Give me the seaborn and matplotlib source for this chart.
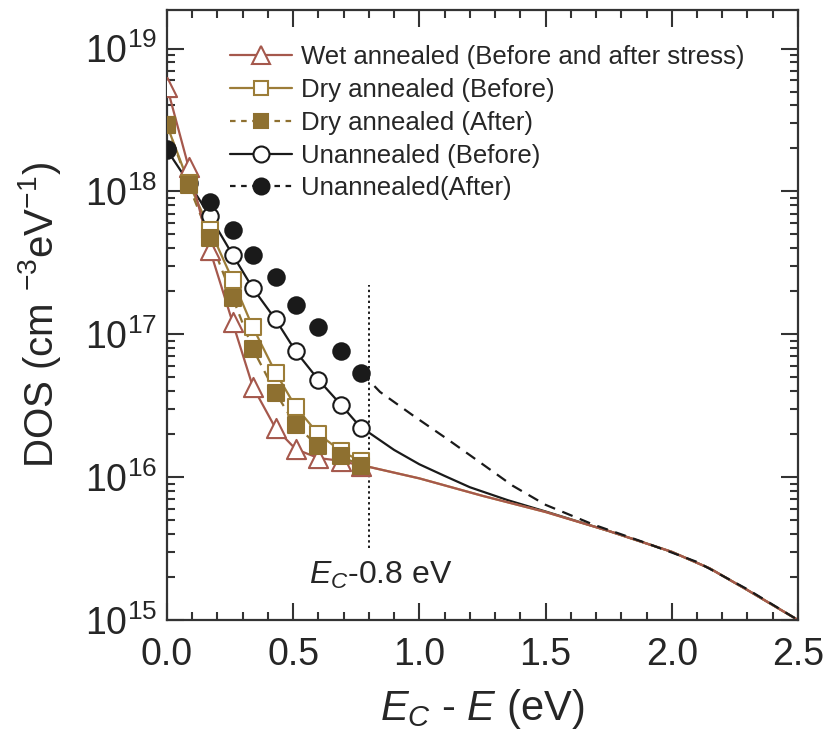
import numpy as np
import matplotlib
matplotlib.use("Agg")
import matplotlib.pyplot as plt
import seaborn as sns
from matplotlib.lines import Line2D
from matplotlib.ticker import MultipleLocator, LogLocator, NullFormatter

# ---------------- data ----------------
x_pts = [0.0, 0.086, 0.17, 0.26, 0.34, 0.43, 0.51, 0.60, 0.69, 0.77]

wet = [5.4e18, 1.47e18, 3.9e17, 1.21e17, 4.3e16, 2.2e16, 1.57e16, 1.36e16, 1.3e16, 1.2e16]
dry_before = [2.9e18, 1.15e18, 5.4e17, 2.4e17, 1.12e17, 5.4e16, 3.1e16, 2.0e16, 1.52e16, 1.29e16]
dry_after = [2.9e18, 1.1e18, 4.7e17, 1.8e17, 7.9e16, 3.9e16, 2.3e16, 1.65e16, 1.4e16, 1.2e16]
unann_before = [1.95e18, 1.15e18, 6.7e17, 3.6e17, 2.1e17, 1.27e17, 7.6e16, 4.8e16, 3.2e16, 2.2e16]
unann_after_x = [0.0, 0.17, 0.26, 0.34, 0.43, 0.51, 0.60, 0.69, 0.77]
unann_after = [1.97e18, 8.4e17, 5.4e17, 3.6e17, 2.5e17, 1.6e17, 1.12e17, 7.6e16, 5.4e16]

# tails beyond the marker region
tail_x = [0.77, 0.8, 1.0, 1.25, 1.5, 1.75, 2.0, 2.15, 2.3, 2.5]
tail_wet = [1.2e16, 1.18e16, 9.8e15, 7.4e15, 5.7e15, 4.2e15, 3.0e15, 2.3e15, 1.62e15, 1.0e15]

tail_ub_x = [0.77, 0.8, 0.9, 1.0, 1.1, 1.2, 1.35, 1.5, 1.75, 2.0, 2.15, 2.3, 2.5]
tail_ub = [2.2e16, 2.05e16, 1.55e16, 1.23e16, 1.02e16, 8.5e15, 6.9e15, 5.75e15, 4.2e15, 3.0e15, 2.3e15, 1.62e15, 1.0e15]

tail_ua_x = [0.77, 0.844, 0.975, 1.11, 1.24, 1.37, 1.5, 1.69, 1.9, 2.1, 2.3, 2.5]
tail_ua = [5.4e16, 3.95e16, 2.7e16, 1.85e16, 1.27e16, 8.7e15, 6.4e15, 4.65e15, 3.45e15, 2.55e15, 1.64e15, 1.0e15]

vline_x = 0.8
vline_y = [3.2e15, 2.2e17]

labels = ["Wet annealed (Before and after stress)", "Dry annealed (Before)",
          "Dry annealed (After)", "Unannealed (Before)", "Unannealed(After)"]

# ---------------- style ----------------
sns.set_theme(style="ticks")
plt.rcParams['font.family'] = ['Liberation Sans', 'DejaVu Sans']
plt.rcParams['mathtext.fontset'] = 'custom'
plt.rcParams['mathtext.rm'] = 'Liberation Sans'
plt.rcParams['mathtext.it'] = 'Liberation Sans:italic'
plt.rcParams['mathtext.bf'] = 'Liberation Sans:bold'

c_wet = '#A5584C'
c_dry = '#9C7D38'
c_dry_f = '#8E7030'
c_blk = '#1a1a1a'
txt = '#262626'

fig = plt.figure(figsize=(8.3, 7.42), dpi=100)
ax = fig.add_axes([0.2012, 0.1644, 0.7602, 0.8221])

lw = 1.6
# lines through markers + tails
sns.lineplot(x=x_pts, y=unann_before, ax=ax, color=c_blk, lw=lw, estimator=None, sort=False)
sns.lineplot(x=tail_ub_x, y=tail_ub, ax=ax, color=c_blk, lw=lw, estimator=None, sort=False)
sns.lineplot(x=x_pts, y=dry_after, ax=ax, color=c_dry_f, lw=lw, linestyle=(0, (4, 3)), estimator=None, sort=False)
sns.lineplot(x=x_pts, y=dry_before, ax=ax, color=c_dry, lw=lw, estimator=None, sort=False)
sns.lineplot(x=tail_x, y=tail_wet, ax=ax, color='#C8A040', lw=lw, estimator=None, sort=False)
sns.lineplot(x=x_pts, y=wet, ax=ax, color=c_wet, lw=lw, estimator=None, sort=False)
sns.lineplot(x=tail_x, y=tail_wet, ax=ax, color=c_wet, lw=lw, estimator=None, sort=False)
sns.lineplot(x=tail_ua_x, y=tail_ua, ax=ax, color=c_blk, lw=lw, linestyle=(0, (5, 3.5)), estimator=None, sort=False)

# markers
mew = 1.5
sns.scatterplot(x=x_pts, y=unann_before, ax=ax, marker='o', s=140, facecolor='white',
                edgecolor=c_blk, linewidth=mew, zorder=3)
sns.scatterplot(x=x_pts, y=wet, ax=ax, marker='^', s=190, facecolor='white',
                edgecolor=c_wet, linewidth=mew, zorder=3)
sns.scatterplot(x=x_pts, y=dry_before, ax=ax, marker='s', s=120, facecolor='white',
                edgecolor=c_dry, linewidth=mew, zorder=3)
sns.scatterplot(x=x_pts, y=dry_after, ax=ax, marker='s', s=120, facecolor=c_dry_f,
                edgecolor=c_dry_f, linewidth=mew, zorder=4)
sns.scatterplot(x=unann_after_x, y=unann_after, ax=ax, marker='o', s=140, facecolor=c_blk,
                edgecolor=c_blk, linewidth=mew, zorder=4)

# vertical dotted line
ax.plot([vline_x, vline_x], vline_y, color=c_blk, lw=1.4, linestyle=(0, (1.2, 1.6)))
ax.text(0.845, 2.05e15, r"$E_C$-0.8 eV", fontsize=23, ha='center', va='center', color=txt)

# axes
ax.set_yscale('log')
ax.set_xlim(0, 2.5)
ax.set_ylim(1e15, 1.86e19)
ax.xaxis.set_major_locator(MultipleLocator(0.5))
ax.xaxis.set_minor_locator(MultipleLocator(0.1))
ax.yaxis.set_major_locator(LogLocator(base=10, numticks=10))
ax.yaxis.set_minor_locator(LogLocator(base=10, subs=np.arange(2, 10), numticks=20))
ax.yaxis.set_minor_formatter(NullFormatter())
ax.xaxis.set_major_formatter(matplotlib.ticker.FormatStrFormatter('%.1f'))

ax.tick_params(which='both', direction='in', top=True, right=True, color='#333333', width=1.5)
ax.tick_params(which='major', length=12, labelsize=27, labelcolor=txt)
ax.tick_params(which='minor', length=6)
ax.tick_params(axis='x', which='major', pad=12)
ax.tick_params(axis='y', which='major', pad=7)
for sp in ax.spines.values():
    sp.set_linewidth(1.6)
    sp.set_color('#333333')

ax.set_xlabel(r"$E_C$ - $E$ (eV)", fontsize=30, color=txt, labelpad=10)
ax.set_ylabel(r"DOS (cm $^{-3}$eV$^{-1}$)", fontsize=29, color=txt, labelpad=16)

handles = [
    Line2D([], [], color=c_wet, lw=lw, marker='^', ms=13, mfc='white', mec=c_wet, mew=mew),
    Line2D([], [], color=c_dry, lw=lw, marker='s', ms=10.5, mfc='white', mec=c_dry, mew=mew),
    Line2D([], [], color=c_dry_f, lw=lw, linestyle=(0, (2.5, 2.5)), marker='s', ms=10.5, mfc=c_dry_f, mec=c_dry_f, mew=mew),
    Line2D([], [], color=c_blk, lw=lw, marker='o', ms=11.5, mfc='white', mec=c_blk, mew=mew),
    Line2D([], [], color=c_blk, lw=lw, linestyle=(0, (2.5, 2.5)), marker='o', ms=11.5, mfc=c_blk, mec=c_blk, mew=mew),
]
leg = ax.legend(handles, labels, loc='upper left', bbox_to_anchor=(0.1, 0.942), frameon=False,
                fontsize=18.5, handlelength=2.4, handletextpad=0.35, labelspacing=0.34,
                borderpad=0, borderaxespad=0)
for t in leg.get_texts():
    t.set_color(txt)

fig.savefig('out.png', dpi=100)
